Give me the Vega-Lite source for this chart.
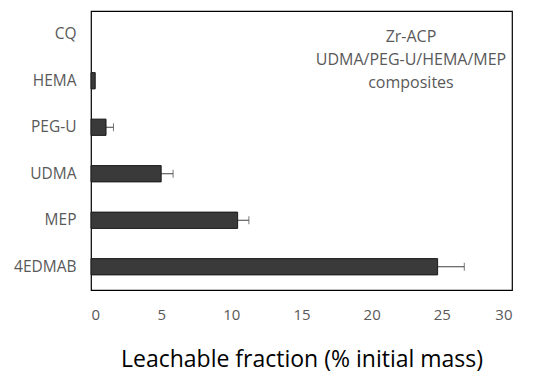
{
  "$schema": "https://vega.github.io/schema/vega-lite/v6.json",
  "width": 421,
  "height": 279,
  "autosize": {"type": "none"},
  "padding": {"left": 91, "top": 11, "right": 48, "bottom": 93},
  "background": "white",
  "config": {
    "view": {"stroke": "#000000", "strokeWidth": 1.2},
    "font": "Open Sans"
  },
  "data": {
    "values": [
      {"component": "CQ", "fraction": 0, "upper": 0},
      {"component": "HEMA", "fraction": 0.3, "upper": 0.3},
      {"component": "PEG-U", "fraction": 1.07, "upper": 1.6},
      {"component": "UDMA", "fraction": 5.0, "upper": 5.85},
      {"component": "MEP", "fraction": 10.45, "upper": 11.25},
      {"component": "4EDMAB", "fraction": 24.7, "upper": 26.6}
    ]
  },
  "encoding": {
    "y": {
      "field": "component",
      "type": "nominal",
      "scale": {
        "domain": ["CQ", "HEMA", "PEG-U", "UDMA", "MEP", "4EDMAB"],
        "paddingInner": 0.65,
        "paddingOuter": 0.325
      },
      "axis": {
        "title": null,
        "domain": false,
        "ticks": false,
        "labelFont": "Open Sans",
        "labelFontSize": 15.5,
        "labelColor": "#595959",
        "labelPadding": 15
      }
    }
  },
  "layer": [
    {
      "mark": {"type": "rule", "color": "#404040", "strokeWidth": 1},
      "transform": [{"filter": "datum.upper > datum.fraction"}],
      "encoding": {
        "x": {"field": "fraction", "type": "quantitative"},
        "x2": {"field": "upper"}
      }
    },
    {
      "mark": {"type": "tick", "color": "#404040", "size": 8, "thickness": 1},
      "transform": [{"filter": "datum.upper > datum.fraction"}],
      "encoding": {
        "x": {"field": "upper", "type": "quantitative"}
      }
    },
    {
      "mark": {"type": "bar", "fill": "#3a3a3a", "stroke": "#1a1a1a", "strokeWidth": 1},
      "transform": [{"filter": "datum.fraction > 0"}],
      "encoding": {
        "x": {
          "field": "fraction",
          "type": "quantitative",
          "scale": {"domain": [0, 30], "nice": false},
          "axis": {
            "values": [0, 5, 10, 15, 20, 25, 30],
            "grid": false,
            "domain": false,
            "ticks": false,
            "labelFont": "Open Sans",
            "labelFontSize": 15,
            "labelColor": "#595959",
            "labelPadding": 17,
            "title": "Leachable fraction (% initial mass)",
            "titleFont": "Open Sans",
            "titleFontSize": 23,
            "titleFontWeight": "normal",
            "titleColor": "#000000",
            "titlePadding": 26
          }
        }
      }
    },
    {
      "data": {
        "values": [
          {"line": "Zr-ACP", "x": 22.8, "row": 0},
          {"line": "UDMA/PEG-U/HEMA/MEP", "x": 22.8, "row": 1},
          {"line": "composites", "x": 22.8, "row": 2}
        ]
      },
      "mark": {
        "type": "text",
        "font": "Open Sans",
        "fontSize": 16,
        "color": "#595959",
        "align": "center",
        "baseline": "middle",
        "y": {"expr": "26 + datum.row * 23"}
      },
      "encoding": {
        "x": {"field": "x", "type": "quantitative"},
        "text": {"field": "line"},
        "y": null
      }
    }
  ]
}
